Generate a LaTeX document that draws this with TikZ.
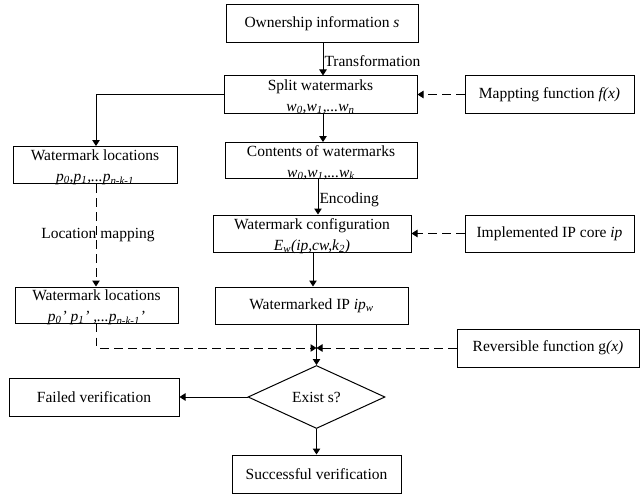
\documentclass[tikz,border=0pt]{standalone}
\usepackage{fontspec}
\setmainfont{Liberation Serif}
\usetikzlibrary{arrows.meta,shapes.geometric}
\newcommand{\firstln}{\rule{0pt}{12pt}}
\begin{document}
\begin{tikzpicture}[x=1pt,y=-1pt,
  box/.style={draw,line width=1pt,inner sep=0pt,align=center,font=\fontsize{15.5}{21}\selectfont},
  arr/.style={line width=1pt,-{Triangle[length=6pt,width=7.5pt]}},
  dsh/.style={arr,dash pattern=on 8.5pt off 5.5pt},
  lbl/.style={font=\fontsize{15.5}{18}\selectfont,inner sep=0pt}]
\useasboundingbox (0,0) rectangle (640,495);
% boxes
\node[box,minimum width=192pt,minimum height=38pt] (own) at (322,24) {Ownership information \textit{s}};
\node[box,minimum width=193pt,minimum height=37pt] (split) at (320.5,94.5) {\firstln Split watermarks\\\smash{\textit{w\textsubscript{0},w\textsubscript{1},...w\textsubscript{n}}}};
\node[box,minimum width=169pt,minimum height=37pt] (map) at (549.5,94.5) {Mappting function \textit{f(x)}};
\node[box,minimum width=164pt,minimum height=37pt] (wl1) at (95,165) {\firstln Watermark locations\\\smash{\textit{p\textsubscript{0},p\textsubscript{1},...p\textsubscript{n-k-1}}}};
\node[box,minimum width=192pt,minimum height=36pt] (cont) at (321,160.5) {\firstln Contents of watermarks\\\smash{\textit{w\textsubscript{0},w\textsubscript{1},...w\textsubscript{k}}}};
\node[box,minimum width=198pt,minimum height=37pt] (conf) at (312,233.5) {\firstln Watermark configuration\\\smash{\textit{E\textsubscript{w}(ip,cw,k\textsubscript{2})}}};
\node[box,minimum width=169pt,minimum height=37pt] (impl) at (549.5,233.5) {Implemented IP core \textit{ip}};
\node[box,minimum width=193pt,minimum height=37pt] (wip) at (311.5,305.5) {Watermarked IP \textit{ip\textsubscript{w}}};
\node[box,minimum width=163pt,minimum height=36pt] (wl2) at (96.5,305) {\firstln Watermark locations\\\smash{\textit{p\textsubscript{0}' p\textsubscript{1}' ,...p\textsubscript{n-k-1}'}}};
\node[box,minimum width=182pt,minimum height=38pt] (rev) at (548,348) {Reversible function g\textit{(x)}};
\node[box,diamond,minimum width=137pt,minimum height=63pt] (dia) at (316.5,397) {Exist s?};
\node[box,minimum width=170pt,minimum height=38pt] (fail) at (94,397) {Failed verification};
\node[box,minimum width=169pt,minimum height=38pt] (succ) at (316.5,474) {Successful verification};
% connectors
\draw[arr] ([xshift=1pt]own.south) -- node[lbl,right,pos=0.55,xshift=1pt] (tlab) {Transformation} ([xshift=1pt]own.south |- split.north);
\draw[arr] ([xshift=2.5pt]split.south) -- ([xshift=2.5pt]split.south |- cont.north);
\draw[arr] (split.west) -| ([xshift=1pt]wl1.north);
\draw[dsh] (map.west) -- (split.east);
\draw[arr] ([xshift=-3pt]cont.south) -- node[lbl,right,pos=0.58,xshift=1pt] (elab) {Encoding} ([xshift=-3pt]cont.south |- conf.north);
\draw[dsh] (impl.west) -- (impl.west -| conf.east);
\draw[arr] ([xshift=1pt]conf.south) -- ([xshift=1pt]conf.south |- wip.north);
\draw[dsh] ([xshift=1pt]wl1.south) -- node[lbl,xshift=2pt] (lmlab) {Location mapping} ([xshift=1pt]wl1.south |- wl2.north);
\coordinate (meet) at (dia.north |- rev.west);
\draw[line width=1pt] (dia.north |- wip.south) -- (meet);
\draw[arr] (meet) -- (dia.north);
\draw[dsh] (wl2.south) |- (meet);
\draw[dsh] (rev.west) -- (meet);
\draw[arr] (dia.west) -- (fail.east);
\draw[arr] (dia.south) -- (dia.south |- succ.north);
\end{tikzpicture}
\end{document}
